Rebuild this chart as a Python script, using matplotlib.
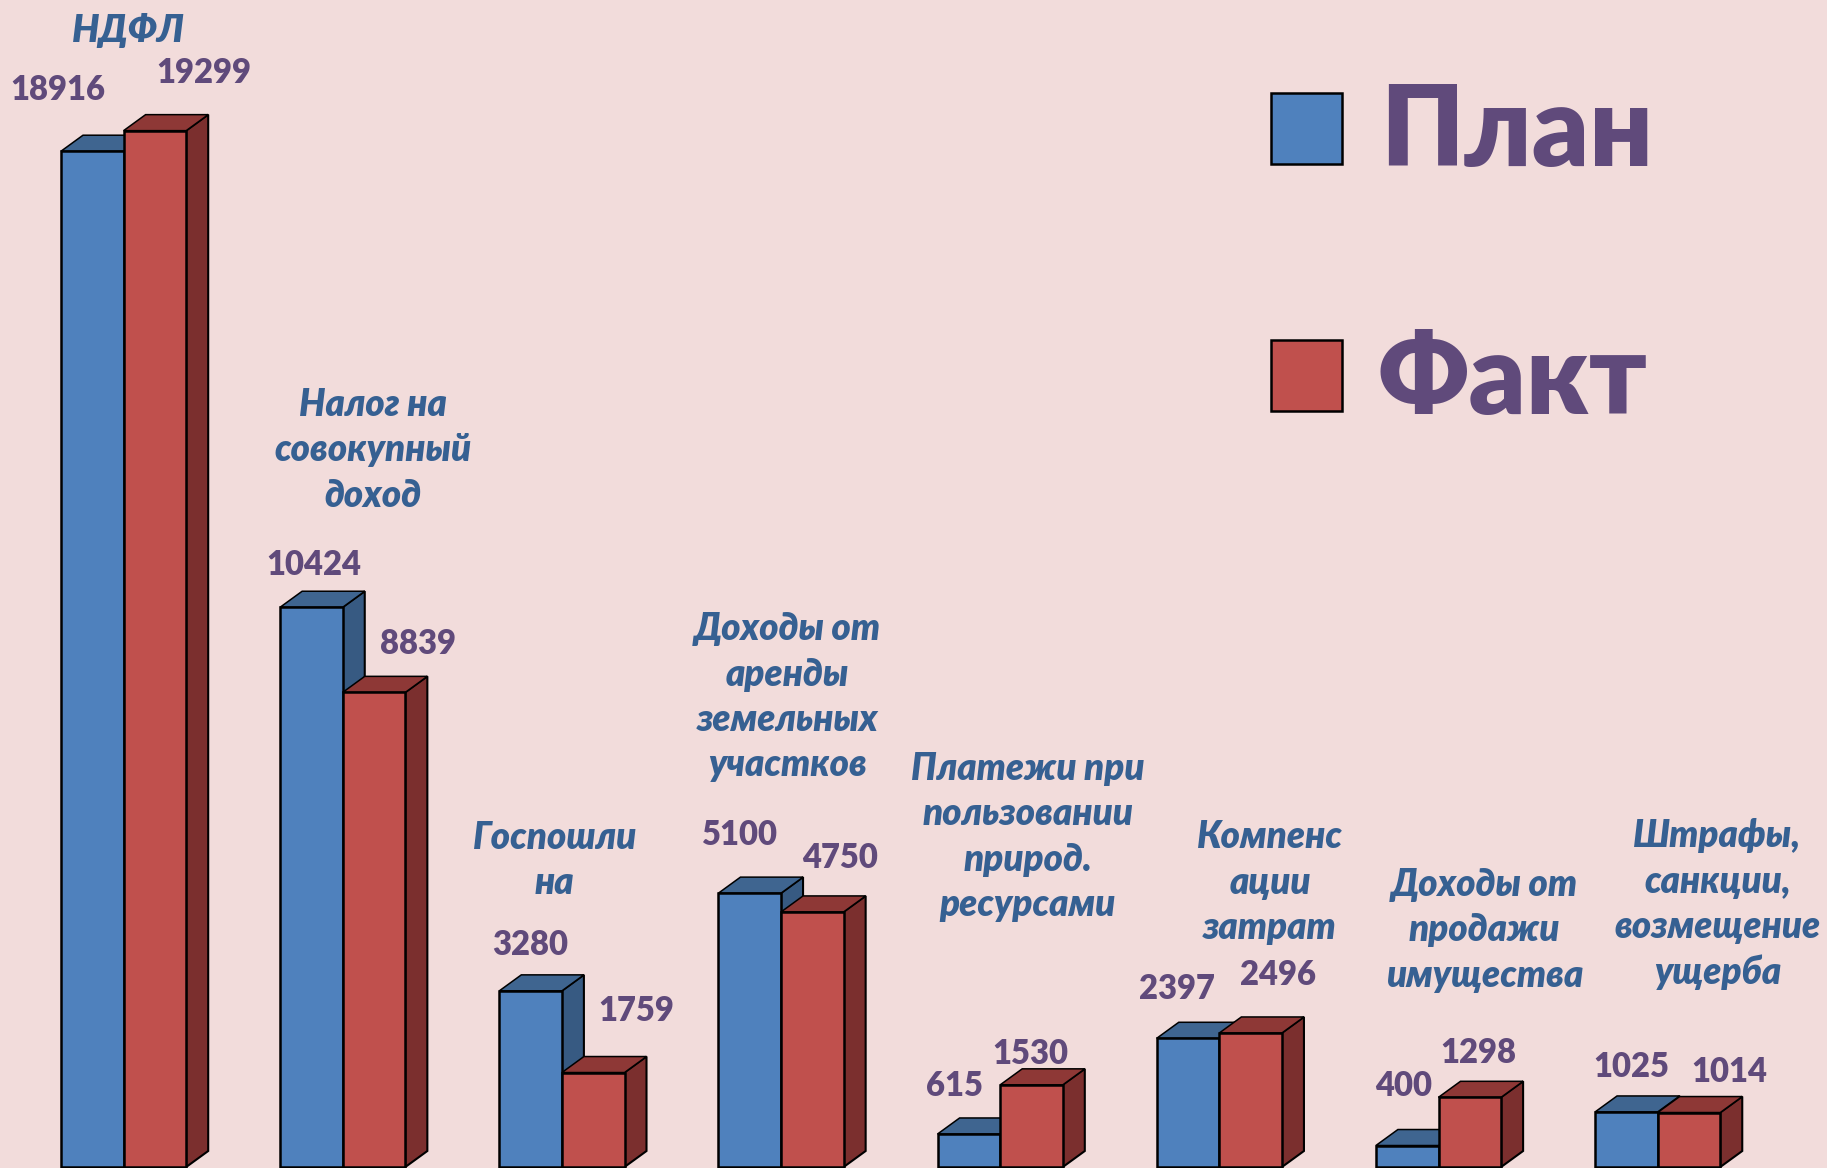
import matplotlib
matplotlib.use("Agg")
import matplotlib.pyplot as plt
from matplotlib.patches import Polygon, Rectangle

W, H = 1827, 1168
categories = ["НДФЛ", "Налог на\nсовокупный\nдоход", "Госпошли\nна", "Доходы от\nаренды\nземельных\nучастков",
              "Платежи при\nпользовании\nприрод.\nресурсами", "Компенс\nации\nзатрат",
              "Доходы от\nпродажи\nимущества", "Штрафы,\nсанкции,\nвозмещение\nущерба"]
plan = [18916, 10424, 3280, 5100, 615, 2397, 400, 1025]
fact = [19299, 8839, 1759, 4750, 1530, 2496, 1298, 1014]
series_names = ["План", "Факт"]

# layout (reference pixels)
S = 1827 / 1568
plan_label_xy = [(50, 77), (269, 485), (455, 811), (634, 717), (819, 932), (1010, 849), (1205, 932), (1400, 916)]
fact_label_xy = [(175, 63), (359, 553), (546, 868), (721, 736), (884, 905), (1097, 837), (1269, 904), (1484, 920)]
cat_xy = [(110, 26), (320, 386), (476, 738), (676, 598), (882, 718), (1090, 757), (1274, 798), (1474, 776)]
cat_sizes = [27.4, 26.4, 26.4, 26.4, 26.4, 26.4, 26.4, 26.4]

BG = "#F2DCDB"; BLUE = "#4F81BD"; RED = "#C0504D"
BLUE_TOP = "#3F6590"; BLUE_SIDE = "#375A82"; RED_TOP = "#8E3836"; RED_SIDE = "#7B2F2E"
PURPLE = "#604A7B"; CAT = "#366092"
FONT = "Lato"
EDGE = 1.8

fig = plt.figure(figsize=(W / 100, H / 100), dpi=100, facecolor=BG)
ax = fig.add_axes([0, 0, 1, 1])
ax.set_facecolor(BG)
STEP = 219.15; PX_PER_UNIT = 0.0537
ax.set_xlim(-61 / STEP, (W - 61) / STEP)
ax.set_ylim(-1 / PX_PER_UNIT, (H - 1) / PX_PER_UNIT)
ax.axis("off")

bw = 62.6 / STEP
dx = 22 / STEP
dy = 16 / PX_PER_UNIT

def bar3d(x, v, front, top, side, z):
    ax.add_patch(Polygon([(x + bw, 0), (x + bw + dx, dy), (x + bw + dx, v + dy), (x + bw, v)],
                         fc=side, ec="black", lw=1.5, zorder=z, clip_on=False))
    ax.add_patch(Polygon([(x, v), (x + dx, v + dy), (x + bw + dx, v + dy), (x + bw, v)],
                         fc=top, ec="black", lw=1.1, zorder=z, clip_on=False))
    ax.bar(x, v, width=bw, align="edge", color=front, edgecolor="black", linewidth=EDGE, zorder=z + 0.5)

for i, (p, f) in enumerate(zip(plan, fact)):
    bar3d(i, p, BLUE, BLUE_TOP, BLUE_SIDE, 2)
    bar3d(i + bw, f, RED, RED_TOP, RED_SIDE, 3)

def px(x, y):
    return x / W, 1 - y / H

for vals, xy in ((plan, plan_label_xy), (fact, fact_label_xy)):
    for v, (x, y) in zip(vals, xy):
        fx, fy = px(x * S, y * S)
        fig.text(fx, fy, str(v), ha="center", va="center", family=FONT, weight=800,
                 fontsize=23.6, color=PURPLE)

for c, (x, y), fs in zip(categories, cat_xy, cat_sizes):
    fx, fy = px(x * S, y * S)
    fig.text(fx, fy, c, ha="center", va="center", family=FONT, weight=800, style="italic",
             fontsize=fs, color=CAT, linespacing=1.36)

for name, col, top, tx, base in ((series_names[0], BLUE, 93, 1380, 166), (series_names[1], RED, 340, 1378, 414)):
    fig.add_artist(Rectangle(px(1271, top + 71), 71 / W, 71 / H, transform=fig.transFigure,
                             fc=col, ec="black", lw=EDGE))
    fx, fy = px(tx, base)
    fig.text(fx, fy, name, ha="left", va="baseline", family=FONT, weight=800, fontsize=80, color=PURPLE)

fig.savefig("out.png", dpi=100, facecolor=BG)
